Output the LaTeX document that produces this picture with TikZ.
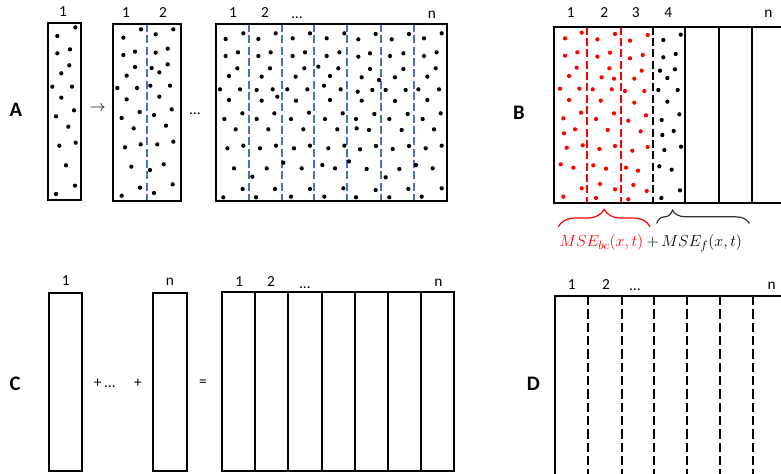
\documentclass[tikz,border=0pt]{standalone}
\usepackage{fontspec}
\setmainfont{Carlito}
\usetikzlibrary{decorations.pathreplacing}
\definecolor{dashblue}{RGB}{68,114,196}
\begin{document}
\begin{tikzpicture}[x=0.75pt,y=-0.75pt,
  box/.style={line width=1.5pt},
  sep/.style={line width=1.4pt},
  bluedash/.style={dashblue,line width=1.4pt,dash pattern=on 6pt off 2.5pt},
  reddash/.style={red,line width=1.4pt,dash pattern=on 6pt off 2.5pt},
  blackdash/.style={black,line width=1.4pt,dash pattern=on 6pt off 2.5pt},
  ddash/.style={black,line width=1.4pt,dash pattern=on 7pt off 3pt},
  num/.style={font=\fontsize{11.5}{13}\selectfont,anchor=base,inner sep=0pt},
  panel/.style={font=\fontsize{15.5}{18}\selectfont\bfseries,anchor=base,inner sep=0pt},
  bracered/.style={decorate,red,line width=0.9pt,decoration={brace,amplitude=13pt}},
  braceblack/.style={decorate,black!80,line width=0.9pt,decoration={brace,amplitude=10pt,aspect=0.17}}]
\useasboundingbox (0,0) rectangle (781,474);
\clip (0,0) rectangle (781,474);
\def\dotr{1.6pt}

% ---------------- Panel A ----------------
\node[panel] (lA) at (16,116.7) {A};
% box 1
\node[num] (a1n1) at (63,16.7) {1};
\draw[box] (48,23) rectangle (81.3,200.3);
\foreach \X/\Y in {226/82,172/108,172/160,210/148,208/196,184/220,157/260,216/260,184/293,222/331,168/349,205/380,178/437,227/428,198/496,225/557,168/582}
  \fill ({\X/3},{\Y/3}) circle[radius=\dotr];
\node[num,anchor=center] (arrA) at (97.7,108.3) {$\rightarrow$};
% box 2
\node[num] (a2n1) at (126,17.2) {1};
\node[num] (a2n2) at (163,17.2) {2};
\draw[bluedash] (147,24) -- (147,201);
\draw[box] (113,24) rectangle (181,201);
\foreach \X/\Y in {423/88,520/88,370/113,467/103,370/165,405/155,467/158,503/146,405/201,455/204,478/217,503/193,380/227,352/264,411/264,451/257,510/257,380/298,478/290,419/336,462/345,515/328,365/354,401/385,498/377,375/442,422/433,472/433,520/425,394/500,450/510,491/493,420/563,518/553,365/587,462/579}
  \fill ({\X/3},{\Y/3}) circle[radius=\dotr];
\node[num] (dotsA) at (195,115) {…};
% box 3
\node[num] (a3n1) at (233,17.5) {1};
\node[num] (a3n2) at (265,17.5) {2};
\node[num] (a3dots) at (297,18.3) {…};
\node[num] (a3nn) at (432,18.5) {n};
\foreach \x in {248.7,281.7,314.3,347,380.7,414.3}
  \draw[bluedash] (\x,24) -- (\x,201);
\draw[box] (215.7,24) rectangle (447.3,201);
\foreach \X/\Y in {62/117,115/100,160/117,212/100,263/115,315/100,365/115,418/100,460/118,512/102,560/118,612/102,657/115,710/100,
  62/168,99/157,160/168,197/157,263/168,300/157,365/168,403/157,460/170,495/160,555/168,595/160,657/168,695/157,
  97/205,195/205,298/205,340/200,400/205,495/207,595/207,692/205,
  72/228,170/230,272/230,375/228,470/232,522/240,570/232,667/230,
  45/268,105/268,155/270,203/268,217/290,247/268,307/268,357/257,407/268,458/275,502/270,542/270,602/270,640/268,702/268,
  72/300,170/302,273/302,375/300,470/302,570/303,667/300,
  112/340,208/340,312/338,413/340,508/342,608/342,707/340,
  58/357,155/357,258/357,360/357,453/357,553/357,653/357,
  92/388,190/388,295/388,397/388,455/385,492/390,590/390,687/388,
  67/445,115/437,165/445,213/437,267/445,315/437,370/445,418/437,465/448,513/438,563/447,612/438,662/445,710/437,
  235/488,432/484,633/495,
  87/505,185/505,290/505,352/495,390/505,485/507,583/507,683/505,
  142/530,542/532,
  113/567,210/567,315/567,415/565,512/570,610/567,710/565,
  55/592,153/592,258/590,358/590,453/592,553/592,650/590}
  \fill ({205+\X/3},{\Y/3}) circle[radius=\dotr];

% ---------------- Panel B ----------------
\node[panel] (lB) at (519,119.3) {B};
\node[num] (b1) at (570.7,17.3) {1};
\node[num] (b2) at (604.3,17.3) {2};
\node[num] (b3) at (635.7,17.3) {3};
\node[num] (b4) at (668.3,17.3) {4};
\node[num] (bn) at (768.3,17.3) {n};
\draw[reddash] (587.3,26.7) -- (587.3,203.3);
\draw[reddash] (620.7,26.7) -- (620.7,203.3);
\draw[blackdash] (653.3,26.7) -- (653.3,203.3);
\foreach \x in {685.3,718.7,751.7}
  \draw[sep] (\x,26.7) -- (\x,203.3);
\draw[box] (554.3,26.7) rectangle (785,203.3);
\foreach \X/\Y in {195/115,245/98,292/118,345/102,390/122,443/105,
  195/167,232/157,292/170,330/158,390/175,428/165,
  230/203,328/205,425/212,
  207/228,305/232,342/236,403/236,
  180/266,238/266,278/268,335/268,375/273,433/273,
  207/300,302/302,403/308,
  243/338,342/340,438/346,
  190/355,288/357,385/362,
  225/388,323/390,422/394,192/400,
  200/443,248/436,298/447,345/438,397/452,443/441,
  182/493,220/503,280/496,318/506,378/503,414/512,
  245/565,300/552,345/568,400/555,440/573,
  190/590,288/594,385/598}
  \fill[red] ({500+\X/3},{\Y/3}) circle[radius=\dotr];
\foreach \X/\Y in {490/120,542/104,490/172,527/162,480/212,525/208,502/234,475/270,533/270,502/305,485/360,538/343,487/405,521/393,493/450,543/440,478/499,515/509,540/571,484/594}
  \fill ({500+\X/3},{\Y/3}) circle[radius=\dotr];
\coordinate (brL) at (558.3,226.7);
\coordinate (brR) at (650,226.7);
\coordinate (bkL) at (656.7,223.5);
\coordinate (bkR) at (749.3,223.5);
\draw[bracered] (brL) -- (brR);
\draw[braceblack] (bkL) -- (bkR);
\node[red,anchor=base west,inner sep=0pt,font=\fontsize{12.5}{14}\selectfont] (mbc) at (559,246.5) {$MSE_{bc}(x,t)$};
\node[anchor=base west,inner sep=0pt,font=\fontsize{12.5}{14}\selectfont] (mf) at ([xshift=2pt]mbc.base east) {$+\,MSE_{f}(x,t)$};

% ---------------- Panel C ----------------
\node[panel] (lC) at (15,390.7) {C};
\node[num] (c1) at (65.7,285) {1};
\draw[box] (49,293.3) rectangle (82.3,470.7);
\node[num,anchor=center] (cp1) at (97.7,383.3) {+};
\node[num] (cdots) at (110,387) {…};
\node[num,anchor=center] (cp2) at (138,383.3) {+};
\node[num] (cn) at (170,285.7) {n};
\draw[box] (153.3,293.3) rectangle (186.7,470.7);
\node[num,anchor=center] (ceq) at (203,383.3) {=};
\node[num] (cb1) at (239.3,286.7) {1};
\node[num] (cb2) at (271,286.7) {2};
\node[num] (cbdots) at (305,288.3) {…};
\node[num] (cbn) at (438.3,286.7) {n};
\foreach \x in {255,288.3,321.7,354.7,388.3,421.3}
  \draw[sep] (\x,292.3) -- (\x,470.7);
\draw[box] (222.3,292.3) rectangle (454.3,470.7);

% ---------------- Panel D ----------------
\node[panel] (lD) at (533.3,390.7) {D};
\node[num] (d1) at (571.7,289.3) {1};
\node[num] (d2) at (606,289.3) {2};
\node[num] (ddots) at (635,290.7) {…};
\node[num] (dn) at (771.7,289.3) {n};
\foreach \x in {588.3,621.7,654.3,686.7,720,753.3}
  \draw[ddash] (\x,296) -- (\x,476);
\draw[box] (555,296) rectangle (787,476);
\end{tikzpicture}
\end{document}
